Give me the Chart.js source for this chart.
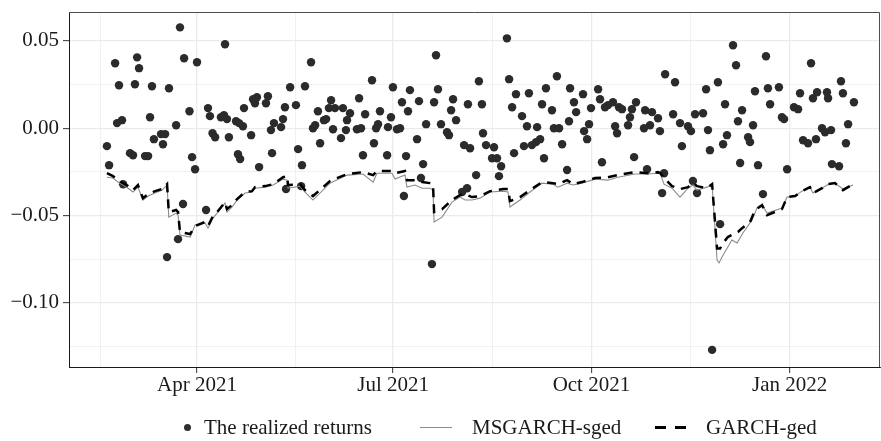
<!DOCTYPE html>
<html>
<head>
<meta charset="utf-8">
<title>Realized returns vs VaR</title>
<script src="https://cdn.jsdelivr.net/npm/chart.js@4.4.1/dist/chart.umd.min.js"></script>
<style>
  html, body { margin: 0; padding: 0; background: #fff; }
  #wrap { position: relative; width: 881px; height: 441px; }
  #legend {
    position: absolute; left: 0; top: 414px; width: 881px; height: 26px;
    font-family: "Liberation Serif", "DejaVu Serif", serif; font-size: 21px; color: #1a1a1a;
  }
  #legend span { position: absolute; }
  #legend .lab { top: 0; line-height: 26px; white-space: nowrap; }
  .k-dot { left: 184px; top: 10px; width: 7px; height: 7px; border-radius: 50%; background: #2e2e2e; }
  .k-ms { left: 420px; top: 13px; width: 32px; height: 1px; background: #8c8c8c; }
  .k-dash { top: 12px; width: 11px; height: 3px; background: #000; }
</style>
</head>
<body>
<div id="wrap">
  <canvas id="chart" width="881" height="441"></canvas>
  <div id="legend">
    <span class="k-dot"></span><span class="lab" style="left:204px">The realized returns</span>
    <span class="k-ms"></span><span class="lab" style="left:472px">MSGARCH-sged</span>
    <span class="k-dash" style="left:655px"></span><span class="k-dash" style="left:675px"></span>
    <span class="lab" style="left:706px">GARCH-ged</span>
  </div>
</div>
<script>
// x values are days counted from 2021-01-01 (day 0)

const X_TICKS = [90, 181, 273, 365];
const X_TICK_LABELS = ['Apr 2021', 'Jul 2021', 'Oct 2021', 'Jan 2022'];
const X_MINOR = [45, 135.5, 227, 319];

const Y_TICKS = [-0.10, -0.05, 0, 0.05];
const Y_TICK_LABELS = ['\u22120.10', '\u22120.05', '0.00', '0.05'];
const Y_MINOR = [-0.125, -0.075, -0.025, 0.025];

// realized daily returns [day, return]
const REALIZED = [
  [48.2,-0.0103],[49.2,-0.0212],[52.0,0.0372],[52.9,0.0029],[53.8,0.0246],[55.2,0.0046],[55.7,-0.0321],
  [58.9,-0.0143],[60.3,-0.0155],[61.2,0.0252],[62.2,0.0406],[63.1,0.0344],[65.9,-0.0160],[67.3,-0.0160],
  [68.2,0.0063],[69.1,0.0240],[70.0,-0.0063],[73.3,-0.0034],[74.2,-0.0092],[75.2,-0.0034],[76.1,-0.0739],
  [77.0,0.0229],[80.3,0.0017],[81.2,-0.0636],[82.1,0.0578],[83.5,-0.0435],[84.0,0.0401],
  [86.5,0.0097],[87.7,-0.0166],[89.1,-0.0235],[90.0,0.0378],[94.2,-0.0469],[95.1,0.0115],[96.0,0.0069],
  [97.2,-0.0029],[98.4,-0.0052],[101.1,0.0063],[102.5,0.0074],[103.0,0.0481],[103.9,0.0052],[104.8,-0.0052],
  [108.1,0.0040],[109.0,-0.0149],[109.5,0.0029],[110.0,-0.0177],[111.3,0.0011],[111.8,0.0115],[115.1,-0.0040],
  [116.0,0.0166],[116.9,0.0143],[117.8,0.0177],[118.8,-0.0223],[122.0,0.0143],[122.9,0.0183],[124.3,-0.0011],
  [124.8,-0.0143],[125.7,0.0029],
  [129.0,0.0006],[129.9,0.0052],[130.8,0.0120],[131.3,-0.0349],[133.2,0.0235],[135.9,0.0132],[136.9,-0.0120],
  [138.3,-0.0332],[138.7,-0.0212],[140.1,0.0240],[142.9,0.0378],[143.8,0.0000],[144.8,0.0017],[146.1,0.0097],
  [147.1,-0.0086],[148.9,0.0046],[149.9,0.0052],[151.2,0.0115],[152.2,0.0160],[153.1,-0.0006],[154.0,0.0115],
  [156.8,-0.0057],[157.7,0.0115],[159.1,-0.0011],[159.6,0.0046],[161.0,0.0086],[164.2,-0.0006],[165.2,0.0172],
  [166.1,0.0000],[167.0,-0.0155],[168.0,0.0080],[171.2,0.0275],[172.1,-0.0086],
  [173.1,0.0000],[174.0,0.0023],[174.9,0.0097],[178.2,-0.0155],[178.6,0.0006],[180.0,0.0063],[180.9,0.0235],
  [182.8,-0.0006],[184.2,0.0000],[185.1,0.0149],[186.0,-0.0389],[187.0,-0.0160],[187.9,0.0097],[188.8,0.0218],
  [192.1,-0.0063],[193.0,0.0155],[193.9,-0.0286],[194.9,-0.0206],[196.3,0.0023],[199.0,-0.0779],[200.0,0.0149],
  [200.9,0.0418],[201.8,0.0223],[203.2,0.0023],[206.0,-0.0023],[206.9,-0.0040],[207.9,0.0103],[208.8,0.0166],
  [210.2,0.0046],[213.0,-0.0366],[213.9,-0.0097],[215.3,-0.0344],[215.7,0.0137],[216.7,-0.0115],
  [219.5,-0.0269],[220.8,0.0269],[222.2,0.0137],[222.7,-0.0029],[224.1,-0.0097],[226.9,-0.0172],[227.8,-0.0109],
  [229.2,-0.0172],[230.1,-0.0275],[231.1,-0.0218],[233.8,0.0515],[234.8,0.0281],[236.2,0.0120],[237.1,-0.0143],
  [238.0,0.0195],[240.8,0.0069],[241.7,-0.0103],[243.1,0.0011],[244.0,0.0200],[245.4,-0.0097],[247.3,-0.0080],
  [247.8,0.0006],[249.2,-0.0063],[250.1,0.0137],[251.0,-0.0172],[251.9,0.0229],[254.7,0.0103],[255.6,0.0000],
  [257.0,0.0298],[258.0,0.0000],[259.4,-0.0092],
  [261.7,-0.0240],[262.6,0.0040],[263.1,0.0229],[264.9,0.0149],[265.9,0.0092],[269.1,0.0195],[269.6,-0.0017],
  [271.0,-0.0063],[271.9,0.0023],[272.8,0.0115],[276.1,0.0223],[277.0,0.0166],[277.9,-0.0195],[279.3,0.0120],
  [280.7,0.0132],[283.0,0.0149],[284.0,0.0011],[284.9,-0.0029],[285.8,0.0120],[287.2,0.0109],[290.0,0.0017],
  [290.9,0.0063],[291.8,0.0109],[292.8,-0.0166],[293.7,0.0149],[297.4,0.0000],[297.9,0.0103],[298.8,-0.0235],
  [300.2,0.0017],[301.1,0.0092],[303.9,0.0057],
  [304.8,-0.0017],[305.8,-0.0372],[306.7,-0.0258],[307.2,0.0309],[310.9,0.0080],[311.8,0.0263],[314.1,0.0029],
  [315.0,-0.0103],[317.8,0.0011],[319.2,-0.0017],[320.1,-0.0303],[321.1,0.0080],[322.0,-0.0372],[324.8,0.0086],
  [326.2,0.0223],[327.1,-0.0011],[328.0,-0.0126],[329.0,-0.1271],[331.7,0.0263],[332.7,-0.0550],[334.1,-0.0092],
  [335.0,0.0137],[335.9,-0.0040],[338.7,0.0475],[340.1,0.0361],[341.0,0.0040],[342.0,-0.0200],[342.9,0.0103],
  [345.7,-0.0052],[346.6,-0.0080],[348.0,0.0017],
  [348.9,0.0212],[350.3,-0.0212],[352.6,-0.0378],[354.0,0.0412],[354.9,0.0229],[355.9,0.0137],[360.0,0.0235],
  [361.4,0.0063],[362.4,0.0052],[363.8,-0.0235],[367.0,0.0120],[368.9,0.0109],[369.8,0.0200],[371.2,-0.0069],
  [373.5,-0.0086],[374.9,0.0372],[375.8,0.0172],[377.2,-0.0063],[377.7,0.0206],[380.0,0.0000],[381.4,-0.0023],
  [382.3,0.0206],[382.8,0.0172],[384.2,-0.0011],[384.6,-0.0206],[387.9,-0.0218],[388.8,0.0269],[389.7,0.0200],
  [391.1,-0.0086],[392.1,0.0023],[394.8,0.0149]
];

// VaR forecasts, MSGARCH-sged [day, VaR]
const MSGARCH = [
  [48.2,-0.0281],[51.0,-0.0286],[53.3,-0.0309],[55.7,-0.0326],[58.0,-0.0344],[60.3,-0.0366],[62.6,-0.0338],
  [64.9,-0.0412],[67.3,-0.0389],[70.5,-0.0372],[73.8,-0.0355],[76.1,-0.0326],[76.9,-0.0510],[80.3,-0.0487],
  [81.2,-0.0498],[82.1,-0.0613],[86.8,-0.0624],[89.1,-0.0555],[93.7,-0.0544],[95.1,-0.0573],[97.4,-0.0515],
  [99.3,-0.0487],[103.0,-0.0429],[103.9,-0.0481],[106.2,-0.0452],[108.6,-0.0412],[112.3,-0.0372],[115.5,-0.0366],
  [116.9,-0.0344],[121.6,-0.0338],[125.3,-0.0326],[129.9,-0.0292],[131.8,-0.0298],[132.2,-0.0344],[137.8,-0.0332],
  [140.1,-0.0366],[143.8,-0.0412],[151.7,-0.0315],[159.6,-0.0269],[167.0,-0.0263],[171.7,-0.0309],[173.5,-0.0258],
  [180.5,-0.0258],[181.9,-0.0292],[186.5,-0.0269],[187.4,-0.0338],[191.2,-0.0326],[194.4,-0.0344],[198.1,-0.0344],
  [199.5,-0.0355],[200.0,-0.0538],[203.7,-0.0510],[208.3,-0.0424],[212.0,-0.0395],[214.4,-0.0412],[217.6,-0.0412],
  [221.3,-0.0401],[226.0,-0.0366],[232.0,-0.0361],[234.3,-0.0366],[235.2,-0.0452],[239.9,-0.0412],[244.5,-0.0366],
  [250.1,-0.0315],[255.2,-0.0321],[257.5,-0.0338],[261.7,-0.0315],[264.5,-0.0326],[268.6,-0.0315],[274.7,-0.0292],
  [280.7,-0.0298],[285.3,-0.0281],[293.2,-0.0263],[299.3,-0.0263],[303.9,-0.0258],[305.0,-0.0263],[306.7,-0.0321],
  [310.4,-0.0344],[314.1,-0.0395],[317.8,-0.0344],[320.1,-0.0326],[322.0,-0.0355],[326.6,-0.0338],[329.0,-0.0326],
  [331.3,-0.0756],[332.2,-0.0773],[334.1,-0.0727],[335.9,-0.0690],[338.2,-0.0641],[340.6,-0.0658],[343.3,-0.0601],
  [347.5,-0.0527],[349.8,-0.0458],[352.2,-0.0441],[354.5,-0.0487],[361.4,-0.0458],[363.8,-0.0395],[367.5,-0.0389],
  [370.7,-0.0361],[374.4,-0.0338],[375.8,-0.0372],[380.0,-0.0344],[382.3,-0.0326],[386.0,-0.0315],[389.7,-0.0349],
  [394.4,-0.0326]
];

// VaR forecasts, GARCH-ged [day, VaR]
const GARCH = [
  [48.2,-0.0258],[51.0,-0.0275],[53.3,-0.0298],[55.7,-0.0315],[58.0,-0.0332],[60.3,-0.0355],[62.6,-0.0326],
  [64.9,-0.0401],[67.3,-0.0378],[70.5,-0.0361],[73.8,-0.0349],[76.1,-0.0321],[76.9,-0.0481],[80.3,-0.0469],
  [81.2,-0.0481],[82.1,-0.0595],[86.8,-0.0607],[89.1,-0.0561],[93.7,-0.0538],[95.1,-0.0561],[97.4,-0.0504],
  [99.3,-0.0481],[103.0,-0.0424],[103.9,-0.0464],[106.2,-0.0441],[108.6,-0.0406],[112.3,-0.0366],[115.5,-0.0361],
  [116.9,-0.0338],[121.6,-0.0332],[125.3,-0.0321],[129.9,-0.0281],[131.8,-0.0275],[132.2,-0.0326],[137.8,-0.0321],
  [140.1,-0.0355],[143.8,-0.0389],[151.7,-0.0303],[159.6,-0.0263],[167.0,-0.0252],[171.7,-0.0269],[173.5,-0.0246],
  [180.5,-0.0246],[181.9,-0.0258],[186.5,-0.0246],[187.4,-0.0298],[191.2,-0.0298],[194.4,-0.0309],[198.1,-0.0315],
  [199.5,-0.0321],[200.0,-0.0481],[203.7,-0.0464],[208.3,-0.0412],[212.0,-0.0384],[214.4,-0.0378],[217.6,-0.0395],
  [221.3,-0.0389],[226.0,-0.0361],[232.0,-0.0349],[234.3,-0.0349],[235.2,-0.0418],[239.9,-0.0395],[244.5,-0.0355],
  [250.1,-0.0309],[255.2,-0.0315],[257.5,-0.0321],[261.7,-0.0298],[264.5,-0.0321],[268.6,-0.0309],[274.7,-0.0286],
  [280.7,-0.0281],[285.3,-0.0269],[293.2,-0.0252],[299.3,-0.0258],[303.9,-0.0252],[305.0,-0.0258],[306.7,-0.0286],
  [310.4,-0.0332],[314.1,-0.0349],[317.8,-0.0338],[320.1,-0.0315],[322.0,-0.0332],[326.6,-0.0344],[329.0,-0.0321],
  [331.3,-0.0690],[332.7,-0.0690],[334.1,-0.0658],[336.3,-0.0624],[341.0,-0.0595],[342.9,-0.0573],[346.6,-0.0538],
  [348.9,-0.0469],[352.2,-0.0441],[354.5,-0.0498],[361.4,-0.0464],[363.8,-0.0395],[367.5,-0.0389],[370.7,-0.0361],
  [374.4,-0.0338],[375.8,-0.0372],[380.0,-0.0344],[382.3,-0.0321],[386.0,-0.0315],[389.7,-0.0355],[394.4,-0.0321]
];

const FONT = { family: '"Liberation Serif", "DejaVu Serif", serif', size: 21 };
const TEXT = '#1a1a1a';
const GRID = '#ebebeb';

const toXY = rows => rows.map(([x, y]) => ({ x, y }));

// top + right panel border (ggplot-style box)
const panelBox = {
  id: 'panelBox',
  afterDraw(chart) {
    const { ctx, chartArea: a } = chart;
    ctx.save();
    ctx.strokeStyle = '#4d4d4d';
    ctx.lineWidth = 1;
    ctx.beginPath();
    ctx.moveTo(a.left, a.top + 0.5);
    ctx.lineTo(a.right - 0.5, a.top + 0.5);
    ctx.lineTo(a.right - 0.5, a.bottom);
    ctx.stroke();
    ctx.restore();
  }
};

function tickSet(major, minor) {
  return [...major, ...minor].sort((a, b) => a - b).map(v => ({ value: v }));
}

// scales should not reserve room for their edge labels
function noEdgePadding(s) {
  s.paddingTop = 0;
  s.paddingBottom = 0;
  s.paddingLeft = 0;
  s.paddingRight = 0;
}

new Chart(document.getElementById('chart'), {
  type: 'scatter',
  data: {
    datasets: [
      {
        type: 'line',
        label: 'GARCH-ged',
        data: toXY(GARCH),
        borderColor: '#000',
        borderWidth: 2.5,
        borderDash: [9, 7],
        pointRadius: 0,
        tension: 0,
        order: 1,
      },
      {
        type: 'line',
        label: 'MSGARCH-sged',
        data: toXY(MSGARCH),
        borderColor: '#8c8c8c',
        borderWidth: 1.1,
        pointRadius: 0,
        tension: 0,
        order: 2,
      },
      {
        type: 'scatter',
        label: 'The realized returns',
        data: toXY(REALIZED),
        pointRadius: 4.2,
        pointBackgroundColor: '#2b2b2b',
        pointBorderWidth: 0,
        order: 3,
      },
    ]
  },
  options: {
    responsive: false,
    animation: false,
    events: [],
    layout: { autoPadding: false, padding: { top: 12, right: 1, left: 0, bottom: 0 } },
    plugins: { legend: { display: false }, tooltip: { enabled: false } },
    scales: {
      x: {
        type: 'linear',
        min: 30.6,
        max: 406.9,
        afterBuildTicks: s => { s.ticks = tickSet(X_TICKS, X_MINOR); },
        afterFit: s => { s.height = 74; noEdgePadding(s); },
        ticks: {
          autoSkip: false,
          maxRotation: 0,
          padding: 0,
          color: TEXT,
          font: FONT,
          callback: v => {
            const i = X_TICKS.indexOf(v);
            return i >= 0 ? X_TICK_LABELS[i] : '';
          }
        },
        grid: {
          color: GRID,
          lineWidth: c => X_TICKS.includes(c.tick.value) ? 1.3 : 0.7,
          tickColor: c => X_TICKS.includes(c.tick.value) ? '#333' : 'rgba(0,0,0,0)',
          tickLength: 6,
          tickWidth: 1,
        },
        border: { display: true, color: '#1a1a1a', width: 1 },
      },
      y: {
        type: 'linear',
        min: -0.1369,
        max: 0.0666,
        afterBuildTicks: s => { s.ticks = tickSet(Y_TICKS, Y_MINOR); },
        afterFit: s => { s.width = 69; noEdgePadding(s); },
        ticks: {
          autoSkip: false,
          padding: 4,
          color: TEXT,
          font: FONT,
          callback: v => {
            const i = Y_TICKS.findIndex(t => Math.abs(t - v) < 1e-9);
            return i >= 0 ? Y_TICK_LABELS[i] : '';
          }
        },
        grid: {
          color: GRID,
          lineWidth: c => Y_TICKS.some(t => Math.abs(t - c.tick.value) < 1e-9) ? 1.3 : 0.7,
          tickColor: c => Y_TICKS.some(t => Math.abs(t - c.tick.value) < 1e-9) ? '#333' : 'rgba(0,0,0,0)',
          tickLength: 6,
          tickWidth: 1,
        },
        border: { display: true, color: '#1a1a1a', width: 1 },
      }
    }
  },
  plugins: [panelBox]
});
</script>
</body>
</html>
